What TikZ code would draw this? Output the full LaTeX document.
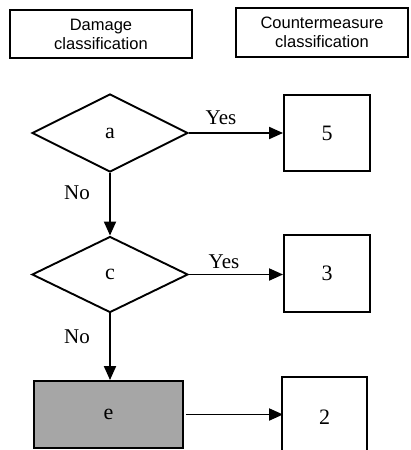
\documentclass[tikz,border=0pt]{standalone}
\usepackage{fontspec}
\setmainfont{Liberation Serif}
\newfontfamily\hdfont{Liberation Sans}
\usetikzlibrary{shapes.geometric,arrows.meta}
\begin{document}
\begin{tikzpicture}[x=1pt,y=-1pt,
 hdr/.style={draw,line width=1.5pt,font=\hdfont\fontsize{16.5}{19}\selectfont,align=center,inner sep=0},
 dec/.style={draw,diamond,line width=1.9pt,minimum width=156pt,minimum height=78pt,inner sep=0,font=\fontsize{22}{24}\selectfont},
 res/.style={draw,rectangle,line width=1.9pt,font=\fontsize{22}{24}\selectfont,inner sep=0},
 arr/.style={line width=1.9pt,-{Triangle[length=14pt,width=12pt]}},
 lbl/.style={font=\fontsize{21}{23}\selectfont,inner sep=0}]
\clip (0,0) rectangle (411,450);
\fill[white] (0,0) rectangle (411,450);
\node[hdr,minimum width=182pt,minimum height=48pt] (h1) at (101,34) {Damage\\classification};
\node[hdr,minimum width=172pt,minimum height=49pt] (h2) at (322,32.5) {Countermeasure\\classification};
\node[dec] (a) at (110,133) {a};
\node[dec,minimum height=76pt] (c) at (110,274.5) {c};
\node[res,minimum width=86pt,minimum height=76pt] (b5) at (327,133) {5};
\node[res,minimum width=86pt,minimum height=77pt] (b3) at (327,273.5) {3};
\node[res,fill=black!35,minimum width=149pt,minimum height=67pt] (e) at (108.5,414.5) {e};
\node[res,minimum width=85pt,minimum height=80pt] (b2) at (324.5,417) {2};
\draw[arr] (a.east) -- (b5.west);
\draw[arr] (c.east) -- (c.east -| b3.west);
\draw[arr] (a.south) -- (c.north);
\draw[arr] (c.south) -- (c.south |- e.north);
\draw[arr] ([xshift=2pt]e.east) -- ([xshift=2pt]e.east -| b2.west);
\node[lbl] (yes1) at (221,118) {Yes};
\node[lbl] (yes2) at (224,262) {Yes};
\node[lbl] (no1) at (77,193) {No};
\node[lbl] (no2) at (77,337) {No};
\end{tikzpicture}
\end{document}
